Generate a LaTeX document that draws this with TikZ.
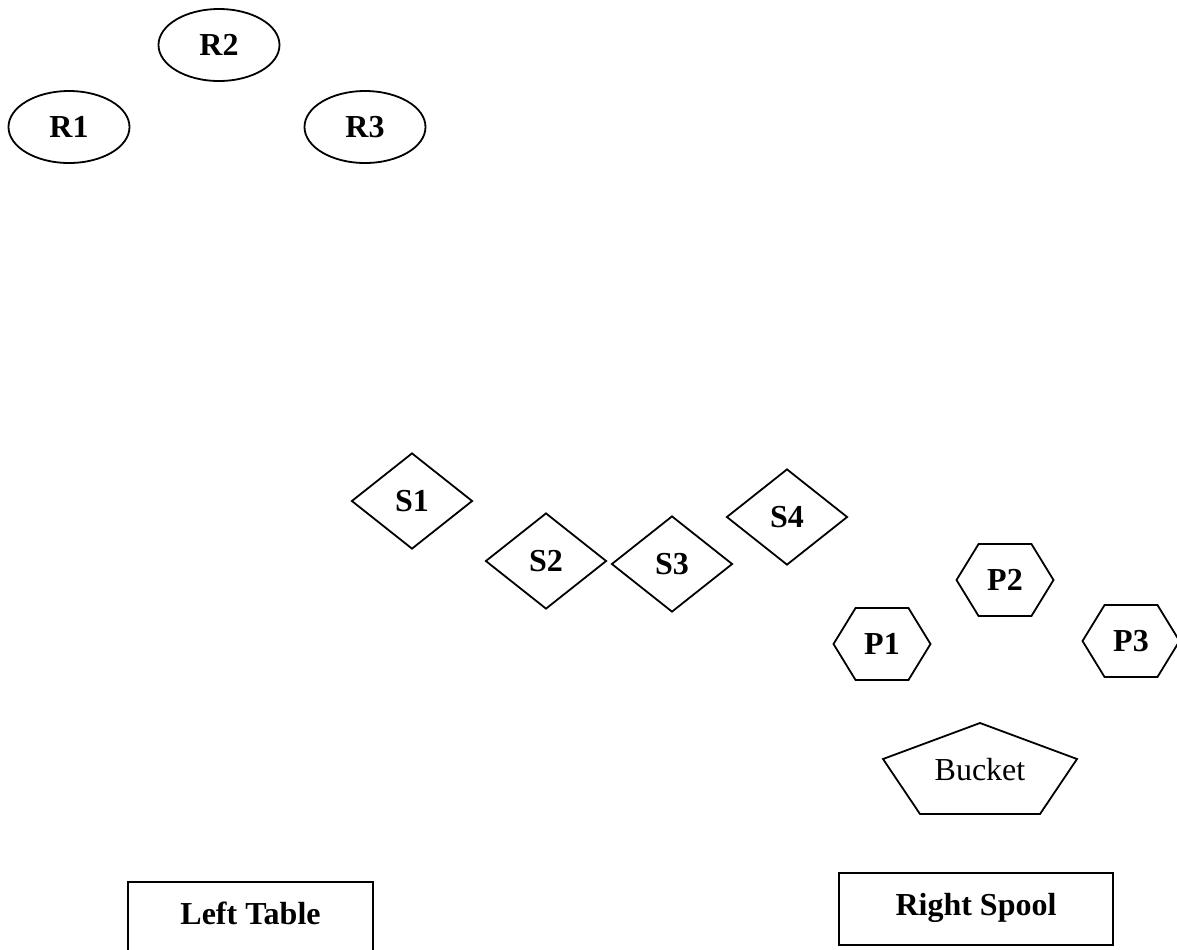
\documentclass[tikz,border=0pt]{standalone}
\usepackage{fontspec}
\setmainfont{Liberation Serif}
\usetikzlibrary{shapes.geometric,shapes.symbols}

\begin{document}
\begin{tikzpicture}[x=0.5pt, y=-0.5pt, line width=0.9pt,
    every node/.style={font=\fontsize{16}{19}\selectfont\bfseries, inner sep=1pt},
    rollnode/.style={draw, ellipse, minimum width=60.5pt, minimum height=36pt},
    stationnode/.style={draw, diamond, minimum width=60.5pt, minimum height=48pt},
    pinnode/.style={draw, signal, signal to=east and west, signal pointer angle=117,
        minimum width=48.5pt, minimum height=36pt},
    boxnode/.style={draw, rectangle, minimum height=36pt, text height=11pt, text depth=5pt}]

\useasboundingbox (0, 0) rectangle (1177, 949);

% Rollers
\node[rollnode] (r1) at (69, 127) {R1};
\node[rollnode] (r2) at (219, 45) {R2};
\node[rollnode] (r3) at (365, 127) {R3};

% Stations
\node[stationnode] (s1) at (412, 501) {S1};
\node[stationnode] (s2) at (546, 561) {S2};
\node[stationnode] (s3) at (672, 564) {S3};
\node[stationnode] (s4) at (787, 517) {S4};

% Pins
\node[pinnode] (p1) at (882, 644) {P1};
\node[pinnode] (p2) at (1005, 580) {P2};
\node[pinnode] (p3) at (1131, 641) {P3};

% Bucket
\draw (980, 723) -- (1077, 759) -- (1040, 814) -- (920, 814) -- (883, 759) -- cycle;
\node[font=\fontsize{16}{19}\selectfont] (bucket) at (980, 770) {Bucket};

% Table and spool
\node[boxnode, minimum width=122.5pt] (lefttable) at (250.5, 918) {Left Table};
\node[boxnode, minimum width=137pt] (rightspool) at (976, 909) {Right Spool};

\end{tikzpicture}
\end{document}
